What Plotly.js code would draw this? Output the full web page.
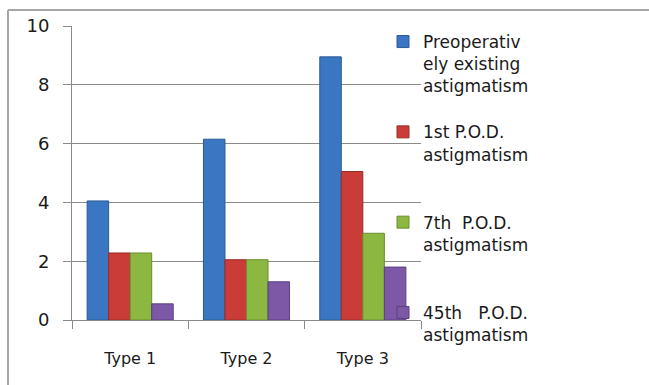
<!DOCTYPE html>
<html>
<head>
<meta charset="utf-8">
<script src="https://cdn.plot.ly/plotly-3.0.1.min.js"></script>
<style>
html,body{margin:0;padding:0;background:#fff;}
#chart{width:649px;height:385px;}
</style>
</head>
<body>
<div id="chart"></div>
<script>
var categories = ['Type 1', 'Type 2', 'Type 3'];
var seriesNames = [
  'Preoperativ<br>ely existing<br>astigmatism',
  '1st P.O.D.<br>astigmatism<br> ',
  '7th&nbsp; P.O.D.<br>astigmatism<br> ',
  '45th&nbsp;&nbsp; P.O.D.<br>astigmatism'
];
var preop = [4.05, 6.15, 8.95];
var pod1 = [2.28, 2.05, 5.05];
var pod7 = [2.28, 2.05, 2.95];
var pod45 = [0.55, 1.3, 1.8];
var yTicks = [0, 2, 4, 6, 8, 10];

var colors = ['#3b76c2', '#c93c38', '#8cb842', '#7c58a6'];
var lineColors = ['#2a5a96', '#9a2b28', '#6a8e2e', '#5c3f80'];
var values = [preop, pod1, pod7, pod45];

var traces = values.map(function (v, i) {
  return {
    type: 'bar',
    x: categories,
    y: v,
    name: seriesNames[i],
    legendgroup: 'g' + i,
    marker: {color: colors[i], line: {color: lineColors[i], width: 1}},
    hoverinfo: 'y'
  };
});

// plot area: x 72..421, y 26..320
var L = 72, R = 421, T = 26, B = 320;
function px(x) { return (x - L) / (R - L); }
function py(y) { return (B - y) / (B - T); }

var layout = {
  width: 649,
  height: 385,
  margin: {l: L, r: 649 - R, t: T, b: 385 - B},
  paper_bgcolor: '#ffffff',
  plot_bgcolor: '#ffffff',
  font: {family: 'DejaVu Sans, Verdana, sans-serif', color: '#1a1a1a', size: 16},
  barmode: 'group',
  bargap: 0.26,
  bargroupgap: 0,
  showlegend: true,
  legend: {
    x: px(383), xanchor: 'left',
    y: py(24), yanchor: 'top',
    valign: 'top',
    traceorder: 'grouped',
    tracegroupgap: 21,
    maxheight: 2000,
    font: {size: 17, color: '#1a1a1a'},
    bgcolor: 'rgba(0,0,0,0)'
  },
  xaxis: {
    type: 'category',
    tickson: 'boundaries',
    ticks: 'outside',
    ticklen: 8,
    tickcolor: '#8a8a8a',
    showline: true,
    linecolor: '#8a8a8a',
    linewidth: 1,
    showgrid: false,
    ticklabelstandoff: 24,
    tickfont: {size: 16}
  },
  yaxis: {
    range: [0, 10],
    tickvals: yTicks,
    ticks: 'outside',
    ticklen: 8,
    tickcolor: '#8a8a8a',
    showline: true,
    linecolor: '#8a8a8a',
    linewidth: 1,
    showgrid: true,
    gridcolor: '#8a8a8a',
    gridwidth: 1,
    zeroline: false,
    ticklabelstandoff: 10,
    tickfont: {size: 18}
  },
  shapes: [
    {type: 'line', xref: 'paper', yref: 'paper', x0: px(8), x1: px(649), y0: py(10), y1: py(10),
     line: {color: '#a6a6a6', width: 2}},
    {type: 'line', xref: 'paper', yref: 'paper', x0: px(8), x1: px(8), y0: py(10), y1: py(386),
     line: {color: '#a6a6a6', width: 2}}
  ]
};

Plotly.newPlot('chart', traces, layout, {displayModeBar: false, staticPlot: true});
</script>
</body>
</html>
